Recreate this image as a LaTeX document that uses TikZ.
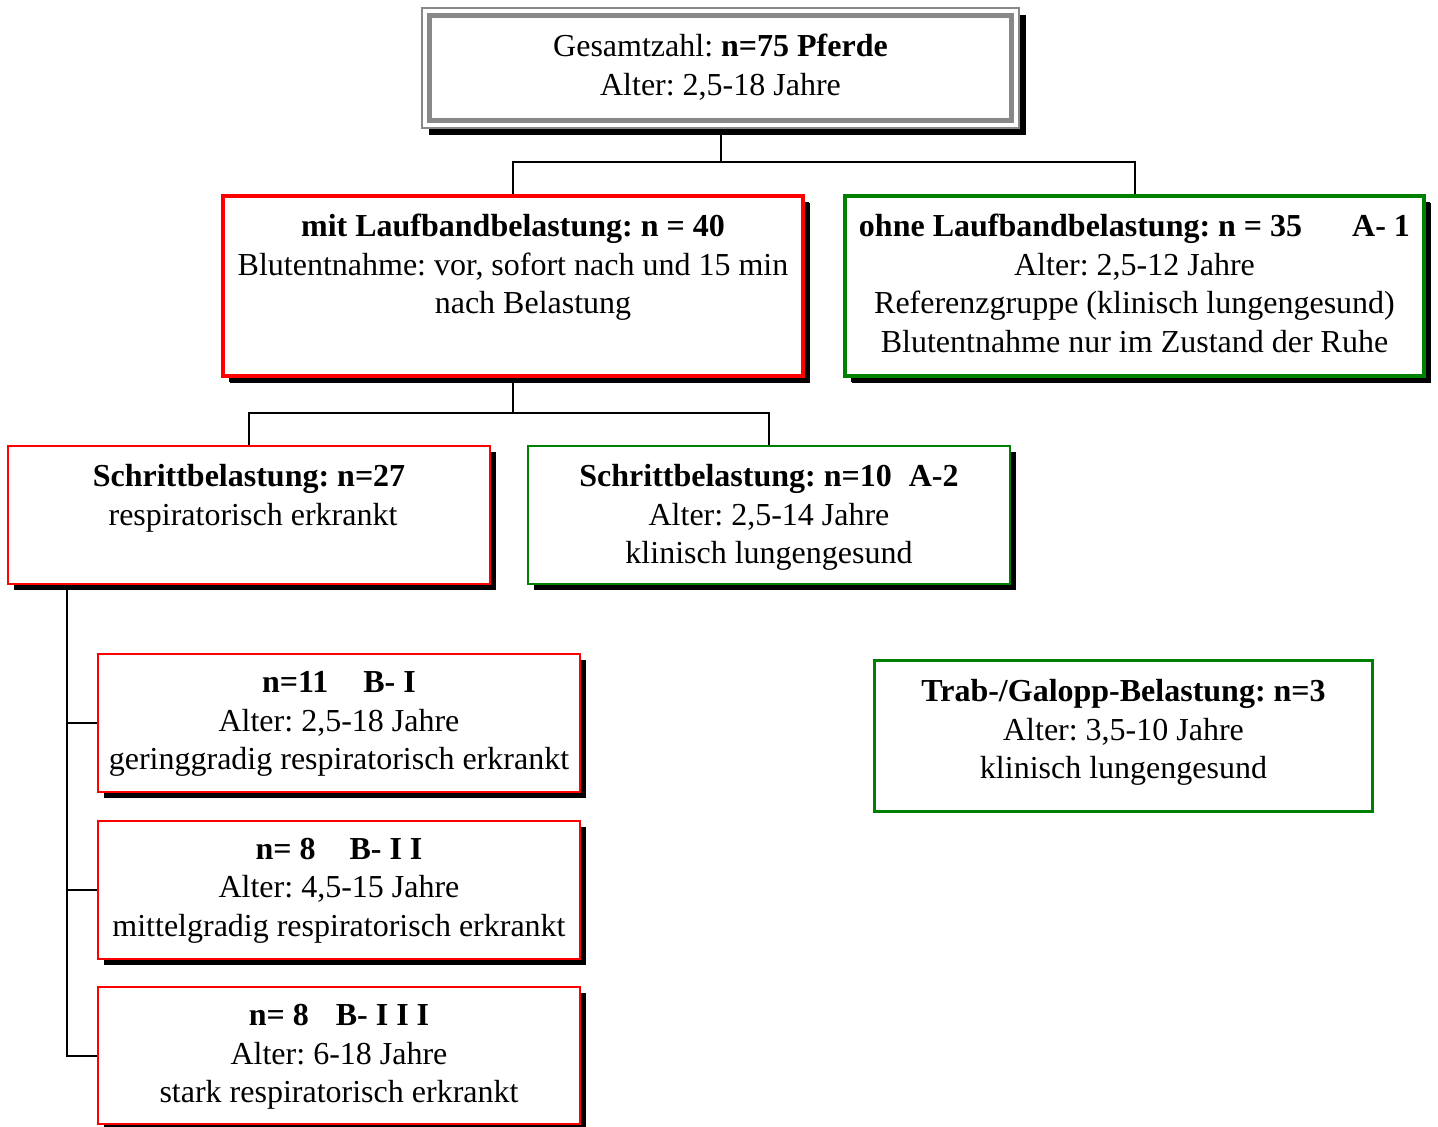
\documentclass[tikz,border=0pt]{standalone}
\usepackage{fontspec}
\setmainfont{Liberation Serif}
\frenchspacing
\usetikzlibrary{shadows}
\definecolor{boxred}{RGB}{255,0,0}
\definecolor{boxgreen}{RGB}{0,128,0}
\definecolor{boxgray}{RGB}{136,136,136}

\begin{document}
\begin{tikzpicture}[x=0.5pt, y=-0.5pt,
    box/.style={rectangle, fill=white, inner sep=0pt},
    blackshadow/.style={general shadow={fill=black, shadow xshift=#1, shadow yshift=-#1}},
    redbox/.style={box, draw=boxred, blackshadow=3pt, line width=1pt, minimum width=241pt, minimum height=69pt},
    greenbox/.style={box, draw=boxgreen, blackshadow=3pt, line width=1pt, minimum width=241pt, minimum height=69pt},
    txt/.style={anchor=north, align=center, inner sep=0pt, font=\fontsize{16}{19.25}\selectfont},
    conn/.style={draw=black, line width=1pt}]
    \useasboundingbox (0,0) rectangle (1438,1126);
    % total, grey frame with inner line
    \node[box, draw=boxgray, line width=1pt, blackshadow=3.5pt,
          minimum width=298.5pt, minimum height=60pt] (total) at (720.5,68) {};
    \draw[boxgray, line width=2.5pt] ([xshift=4.25pt,yshift=-4.25pt]total.north west)
        rectangle ([xshift=-4.25pt,yshift=4.25pt]total.south east);
    \node[txt] (total-t) at ([yshift=-13.5pt]total.north) {Gesamtzahl: \textbf{n=75 Pferde}\\Alter: 2,5-18 Jahre};
    % treadmill / no treadmill
    \node[redbox, line width=2pt, blackshadow=3.5pt, minimum width=290pt, minimum height=90pt] (mit) at (513,286) {};
    \node[txt] (mit-t) at ([yshift=-10pt]mit.north) {\textbf{mit Laufbandbelastung: n = 40}\\Blutentnahme: vor, sofort nach und 15 min\\\hspace*{20pt}nach Belastung};
    \node[greenbox, line width=2pt, blackshadow=3.5pt, minimum width=289.5pt, minimum height=90pt] (ohne) at (1134.5,286) {};
    \node[txt] (ohne-t) at ([yshift=-10pt]ohne.north) {\textbf{ohne Laufbandbelastung: n = 35\hspace{25pt}A- 1}\\Alter: 2,5-12 Jahre\\Referenzgruppe (klinisch lungengesund)\\Blutentnahme nur im Zustand der Ruhe};
    % walking
    \node[redbox] (s27) at (249,515) {};
    \node[txt] (s27-t) at ([yshift=-9.5pt]s27.north) {\textbf{Schrittbelastung: n=27}\\\hspace*{4pt}respiratorisch erkrankt};
    \node[greenbox] (s10) at (769,515) {};
    \node[txt] (s10-t) at ([yshift=-9.5pt]s10.north) {\textbf{Schrittbelastung: n=10\hspace{8.5pt}A-2}\\Alter: 2,5-14 Jahre\\klinisch lungengesund};
    % grades
    \node[redbox] (b1) at (339,723) {};
    \node[txt] (b1-t) at ([yshift=-9pt]b1.north) {\textbf{n=11\hspace{17.5pt}B- I}\\Alter: 2,5-18 Jahre\\geringgradig respiratorisch erkrankt};
    \node[redbox] (b2) at (339,889.5) {};
    \node[txt] (b2-t) at ([yshift=-9pt]b2.north) {\textbf{n= 8\hspace{17pt}B- I I}\\Alter: 4,5-15 Jahre\\mittelgradig respiratorisch erkrankt};
    \node[redbox, minimum height=68.5pt] (b3) at (339,1055.5) {};
    \node[txt] (b3-t) at ([yshift=-9pt]b3.north) {\textbf{n= 8\hspace{13.5pt}B- I I I}\\Alter: 6-18 Jahre\\stark respiratorisch erkrankt};
    % trot / gallop
    \node[box, draw=boxgreen, line width=1.5pt, minimum width=249pt, minimum height=75.5pt] (trab) at (1123.5,736) {};
    \node[txt] (trab-t) at ([yshift=-10pt]trab.north) {\textbf{Trab-/Galopp-Belastung: n=3}\\Alter: 3,5-10 Jahre\\klinisch lungengesund};
    % connectors
    \draw[conn] (total.south) -- ++(0,33) -| (mit.north);
    \draw[conn] (total.south) -- ++(0,33) -| (ohne.north);
    \draw[conn] (mit.south) -- ++(0,35) -| (s27.north);
    \draw[conn] (mit.south) -- ++(0,35) -| (s10.north);
    \coordinate (trunk) at (67,585);
    \draw[conn] (trunk) |- (b1.west);
    \draw[conn] (trunk) |- (b2.west);
    \draw[conn] (trunk) |- (b3.west);
\end{tikzpicture}
\end{document}
